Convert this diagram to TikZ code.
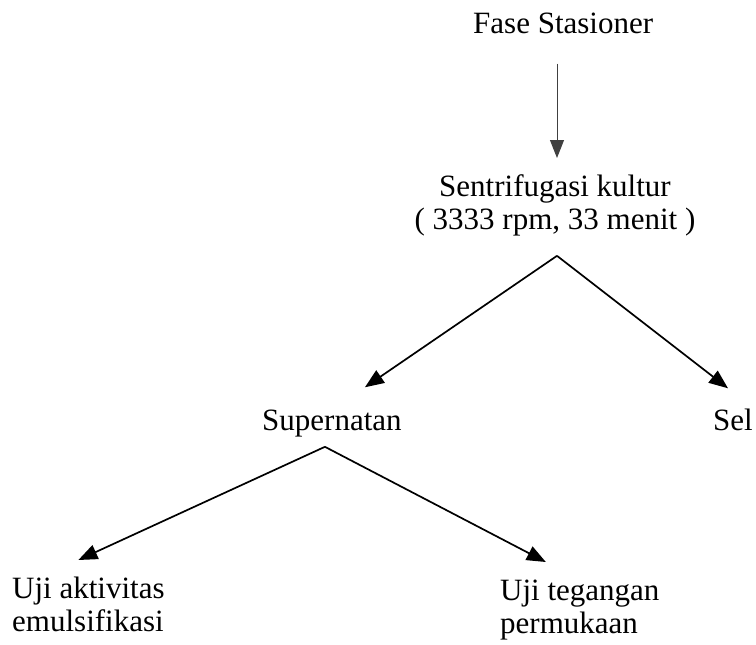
\documentclass[tikz,border=0pt]{standalone}
\usepackage{fontspec}
\setmainfont{Liberation Serif}
\usetikzlibrary{arrows.meta}

\begin{document}
\begin{tikzpicture}[x=1pt, y=-1pt,
					every node/.style = {inner sep=0pt, font=\fontsize{31}{33}\selectfont},
					txt/.style = {anchor=base west},
					twoline/.style = {align=left, anchor=north west},
					arr/.style = {line width=1.7pt, -{Triangle[length=19pt, width=15pt]}},
					arrdown/.style = {line width=1pt, black!75, -{Triangle[length=18pt, width=14pt]}}]
	\useasboundingbox (0,0) rectangle (756,645);
	% text
	\node[txt] (fase) at (473,33) {Fase Stasioner};
	\node[align=center, anchor=north] (sentri) at (555,174) {Sentrifugasi kultur\\( 3333 rpm, 33 menit )};
	\node[txt] (super) at (262,430) {Supernatan};
	\node[txt] (sel) at (713,430) {Sel};
	\node[twoline] (emul) at (12,577) {Uji aktivitas\\emulsifikasi};
	\node[twoline] (tegang) at (500,580) {Uji tegangan\\permukaan};
	% split points
	\coordinate (split1) at ([xshift=2pt, yshift=-20pt]sentri.south);
	\coordinate (split2) at ([xshift=-7pt, yshift=-10pt]super.south);
	% arrows
	\draw[arrdown, shorten <=30pt, shorten >=16pt] (fase.south -| split1) -- (sentri.north -| split1);
	\draw[arr] (split1) -- ([xshift=33pt, yshift=22pt]super.north);
	\draw[arr] (split1) -- ([xshift=-5pt, yshift=20pt]sel.north);
	\draw[arr] (split2) -- ([xshift=-10pt, yshift=17pt]emul.north);
	\draw[arr] (split2) -- ([xshift=-34pt, yshift=18pt]tegang.north);
\end{tikzpicture}
\end{document}
